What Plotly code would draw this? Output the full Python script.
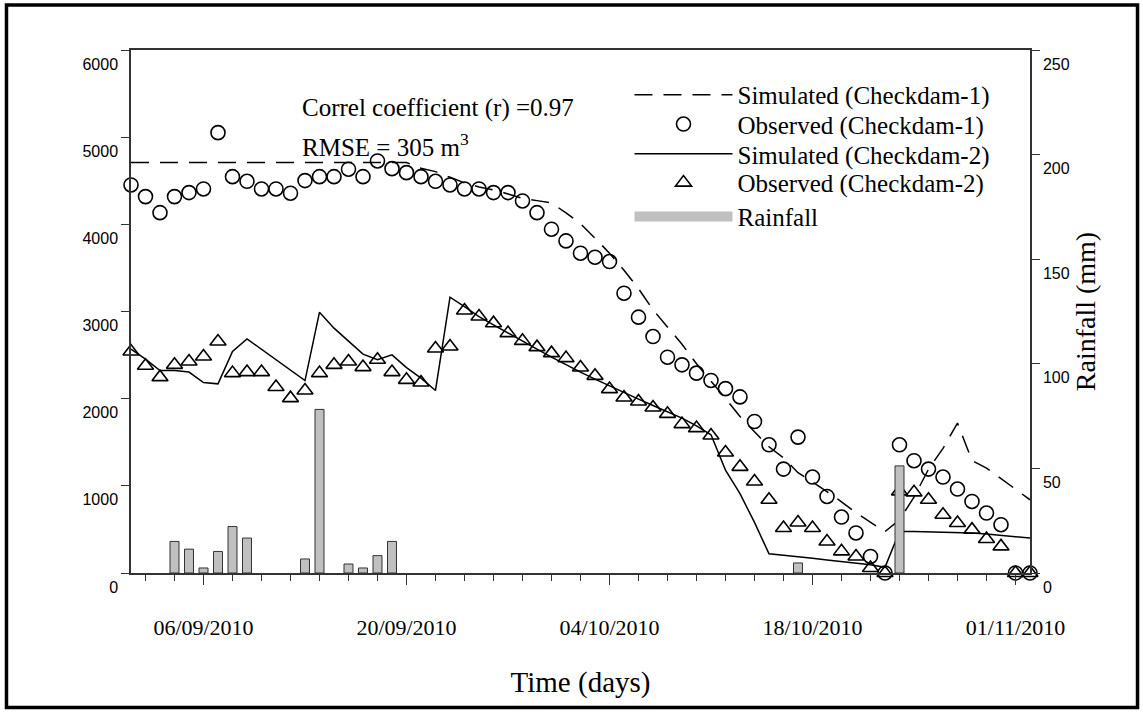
import pandas as pd
import plotly.graph_objects as go

# ---------------- data ----------------
start_date = "2010-09-01"
n_days = 63
dates = pd.date_range(start_date, periods=n_days, freq="D")

obs_cd1 = [4452, 4318, 4134, 4318, 4364, 4406, 5052, 4547, 4494, 4406,
           4406, 4357, 4502, 4547, 4547, 4632, 4547, 4727, 4639, 4593,
           4547, 4494, 4452, 4406, 4406, 4364, 4364, 4268, 4134, 3944,
           3810, 3669, 3623, 3573, 3210, 2935, 2713, 2476, 2388, 2293,
           2209, 2115, 2020, 1738, 1471, 1192, 1559, 1101, 878, 642,
           459, 190, 0, 1471, 1288, 1192, 1101, 963, 821, 688,
           554, 0, 0]

sim_cd1 = [4708, 4708, 4708, 4708, 4708, 4708, 4708, 4708, 4708, 4708,
           4708, 4708, 4708, 4708, 4708, 4708, 4708, 4708, 4708, 4708,
           4643, 4605, 4540, 4475, 4429, 4395, 4349, 4297, 4272, 4245,
           4132, 4007, 3841, 3669, 3473, 3262, 3020, 2819, 2625, 2400,
           2205, 2003, 1795, 1621, 1448, 1322, 1150, 1046, 932, 817,
           691, 582, 474, 610, 871, 1190, 1430, 1720, 1290, 1204,
           1081, 955, 840]

obs_cd2 = [2541, 2377, 2247, 2388, 2426, 2483, 2655, 2293, 2305, 2305,
           2133, 2006, 2094, 2293, 2388, 2426, 2362, 2446, 2305, 2216,
           2185, 2575, 2598, 3011, 2942, 2866, 2752, 2663, 2591, 2522,
           2465, 2357, 2262, 2110, 2013, 1967, 1899, 1826, 1708, 1662,
           1578, 1383, 1218, 1050, 840, 516, 580, 516, 362, 248,
           190, 57, 0, 936, 925, 840, 668, 573, 497, 390,
           305, 0, 0]

sim_cd2 = [2568, 2454, 2323, 2323, 2305, 2185, 2170, 2541, 2686, 2566,
           2447, 2327, 2208, 2992, 2809, 2660, 2511, 2446, 2503, 2357,
           2236, 2094, 3164, 3057, 2942, 2847, 2752, 2656, 2568, 2476,
           2388, 2305, 2224, 2147, 2064, 1995, 1922, 1853, 1777, 1689,
           1586, 1180, 910, 580, 221, 205, 190, 170, 150, 130,
           112, 95, 65, 477, 475, 472, 470, 467, 460, 448,
           432, 416, 401]

rain_dates = ["2010-09-04", "2010-09-05", "2010-09-06", "2010-09-07", "2010-09-08",
              "2010-09-09", "2010-09-13", "2010-09-14", "2010-09-16", "2010-09-17",
              "2010-09-18", "2010-09-19", "2010-10-17", "2010-10-24"]
rain_mm = [15.1, 11.4, 2.4, 10.3, 22.2, 16.7, 6.7, 78.2, 4.3, 2.4,
           8.3, 15.1, 4.8, 51.2]

x_tick_start = "2010-09-06"
minor_tick_start = "2010-09-02"
x_range = ["2010-09-01", "2010-11-02"]
DAY_MS = 86400000

SERIF = "Liberation Serif, Times New Roman, serif"
SANS = "Liberation Sans, Arial, sans-serif"
AX = "#333333"
BAR_FILL = "#c0c0c0"

fig = go.Figure()

fig.add_trace(go.Scatter(
    x=dates, y=sim_cd1, mode="lines", name="Simulated (Checkdam-1)", legend="legend",
    line=dict(color="black", width=1.5, dash="18px,11px")))
fig.add_trace(go.Scatter(
    x=dates, y=obs_cd1, mode="markers", name="Observed (Checkdam-1)", legend="legend2",
    marker=dict(symbol="circle-open", size=14, color="black", line=dict(width=1.6)),
    cliponaxis=False))
fig.add_trace(go.Scatter(
    x=dates, y=sim_cd2, mode="lines", name="Simulated (Checkdam-2)", legend="legend3",
    line=dict(color="black", width=1.5)))
fig.add_trace(go.Scatter(
    x=dates, y=obs_cd2, mode="markers", name="Observed (Checkdam-2)", legend="legend4",
    marker=dict(symbol="triangle-up-open", size=14, color="black", line=dict(width=1.6)),
    cliponaxis=False))
fig.add_trace(go.Bar(
    x=rain_dates, y=rain_mm, name="Rainfall", yaxis="y2",
    width=0.62 * DAY_MS, showlegend=False,
    marker=dict(color=BAR_FILL, line=dict(color="#333333", width=1))))
# legend proxy for the rainfall bars (wide grey rectangle key)
fig.add_trace(go.Scatter(
    x=[None], y=[None], mode="lines", name="Rainfall", yaxis="y2", legend="legend5",
    line=dict(color=BAR_FILL, width=15)))

legend_ys = [0.914, 0.858, 0.801, 0.746, 0.681]
legend_common = dict(
    x=0.5545, xanchor="left", yanchor="middle",
    bgcolor="rgba(0,0,0,0)", borderwidth=0,
    font=dict(family=SERIF, size=25, color="black"),
    itemwidth=98,
)

fig.update_layout(
    width=1143, height=717,
    margin=dict(l=131, r=113, t=50, b=144),
    paper_bgcolor="white", plot_bgcolor="white",
    showlegend=True,
    xaxis=dict(
        type="date", range=x_range,
        showline=True, linecolor=AX, linewidth=1.5, mirror=True,
        showgrid=False, zeroline=False,
        ticks="outside", ticklen=10, tickcolor=AX, tickwidth=1.2,
        tick0=x_tick_start, dtick=14 * DAY_MS, tickformat="%d/%m/%Y",
        minor=dict(ticks="outside", ticklen=6, tickcolor=AX, tickwidth=1.2,
                   tick0=minor_tick_start, dtick=2 * DAY_MS),
        tickfont=dict(family=SERIF, size=22, color="black"),
        ticklabelstandoff=24,
        title=dict(text="Time (days)", font=dict(family=SERIF, size=29, color="black"),
                   standoff=33),
    ),
    yaxis=dict(
        range=[0, 6000], dtick=1000,
        showline=True, linecolor=AX, linewidth=1.5,
        showgrid=False, zeroline=False,
        ticks="outside", ticklen=8, tickcolor=AX, tickwidth=1.2,
        tickfont=dict(family=SANS, size=16, color="black"),
        ticklabelshift=14,
    ),
    yaxis2=dict(
        range=[0, 250], dtick=50, overlaying="y", side="right",
        showline=True, linecolor=AX, linewidth=1.5,
        showgrid=False, zeroline=False,
        ticks="outside", ticklen=8, tickcolor=AX, tickwidth=1.2,
        tickfont=dict(family=SANS, size=16, color="black"),
        ticklabelshift=14,
        title=dict(text="Rainfall (mm)", font=dict(family=SERIF, size=28, color="black"),
                   standoff=4),
    ),
    legend=dict(y=legend_ys[0], **legend_common),
    legend2=dict(y=legend_ys[1], **legend_common),
    legend3=dict(y=legend_ys[2], **legend_common),
    legend4=dict(y=legend_ys[3], **legend_common),
    legend5=dict(y=legend_ys[4], **legend_common),
    annotations=[
        dict(text="Correl coefficient (r) =0.97", xref="paper", yref="paper",
             x=0.188, y=0.889, xanchor="left", yanchor="middle", showarrow=False,
             font=dict(family=SERIF, size=25, color="black")),
        dict(text="RMSE = 305 m<sup>3</sup>", xref="paper", yref="paper",
             x=0.188, y=0.818, xanchor="left", yanchor="middle", showarrow=False,
             font=dict(family=SERIF, size=25, color="black")),
    ],
    shapes=[
        dict(type="rect", xref="paper", yref="paper",
             x0=-0.1385, x1=1.1196, y0=-0.2572, y1=1.0860,
             line=dict(color="black", width=3.5), fillcolor="rgba(0,0,0,0)", layer="below"),
    ],
)

fig.write_html("out.html", config={"displayModeBar": False},
               post_script="document.body.style.margin='0';")
